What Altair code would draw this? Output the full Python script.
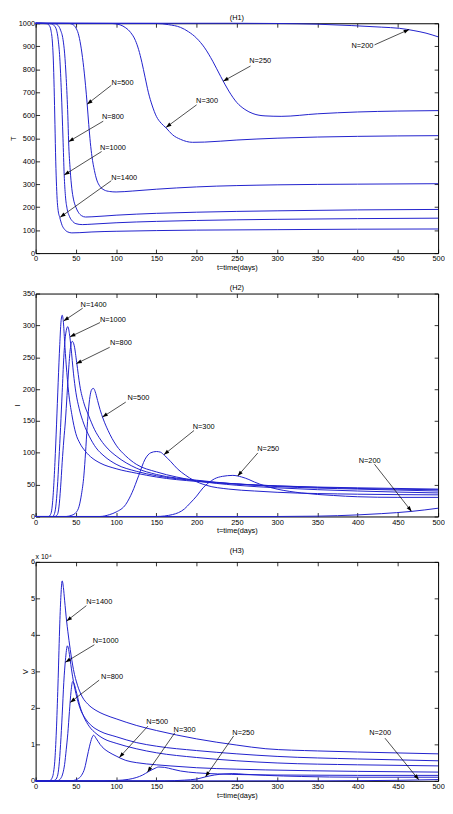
import math
import altair as alt
import pandas as pd

FONT = "Liberation Sans"
BLUE = "#2020cc"
ARROW = "M0,0L-0.36,1L0.36,1Z"

X_TICKS = [0, 50, 100, 150, 200, 250, 300, 350, 400, 450, 500]
H1_Y_TICKS = [0, 100, 200, 300, 400, 500, 600, 700, 800, 900, 1000]
H2_Y_TICKS = [0, 50, 100, 150, 200, 250, 300, 350]
H3_Y_TICKS = [0, 1, 2, 3, 4, 5, 6]
N_VALUES = [1400, 1000, 800, 500, 300, 250, 200]

# ---- (H1) uninfected T cells, (t, T) ----
T_1400 = [(0, 1000), (14, 998), (17, 990), (19, 970), (21, 910), (22, 840), (23, 720), (24, 560),
          (25, 400), (26, 290), (27, 220), (28, 185), (30, 155), (33, 120), (36, 103), (40, 92),
          (45, 88), (55, 89), (70, 92), (100, 95), (150, 98), (200, 100), (300, 102), (400, 104), (500, 105)]
T_1000 = [(0, 1000), (19, 998), (23, 990), (26, 970), (28, 930), (30, 850), (32, 700), (34, 500),
          (35.5, 340), (37, 250), (39, 195), (42, 160), (46, 138), (50, 128), (58, 124), (70, 126),
          (100, 132), (150, 138), (200, 142), (300, 147), (400, 150), (500, 152)]
T_800 = [(0, 1000), (24, 998), (28, 990), (31, 970), (34, 930), (36, 870), (38, 760), (40, 600),
         (41, 485), (43, 360), (45, 280), (47, 235), (50, 200), (53, 178), (57, 163), (62, 157),
         (70, 158), (100, 165), (150, 173), (200, 178), (300, 184), (400, 188), (500, 190)]
T_500 = [(0, 1000), (42, 999), (46, 995), (50, 980), (53, 955), (56, 905), (59, 830), (62, 730),
         (64, 650), (66, 560), (68, 480), (70, 420), (73, 360), (76, 318), (80, 290), (85, 275),
         (92, 268), (100, 266), (120, 270), (150, 278), (200, 288), (300, 297), (400, 300), (500, 302)]
T_300 = [(0, 1000), (95, 999), (105, 993), (112, 980), (118, 960), (124, 925), (128, 885), (132, 830),
         (136, 765), (140, 700), (145, 640), (150, 595), (156, 565), (162, 545), (170, 515), (180, 495),
         (195, 482), (210, 483), (250, 492), (300, 500), (350, 505), (400, 508), (500, 511)]
T_250 = [(0, 1000), (150, 999), (165, 994), (180, 982), (190, 963), (200, 935), (210, 893), (220, 835),
         (230, 768), (240, 705), (250, 655), (260, 625), (270, 607), (285, 597), (305, 595), (350, 606),
         (400, 614), (450, 618), (500, 620)]
T_200 = [(0, 1000), (250, 1000), (300, 999), (350, 996), (392, 990), (430, 983), (452, 978), (470, 968),
         (485, 957), (500, 941)]

# ---- (H2) infected cells I, (t, I) ----
I_1400 = [(0, 0), (16, 0), (18, 2), (20, 10), (22, 38), (24, 85), (26, 145), (28, 210), (30, 270),
          (31.5, 305), (33, 316), (34.5, 305), (36, 275), (38, 238), (41, 195), (45, 160), (50, 130),
          (55, 115), (62, 102), (70, 92), (80, 84), (100, 75), (125, 68), (150, 62), (200, 55), (250, 51),
          (300, 48), (400, 45), (500, 43)]
I_1000 = [(0, 0), (21, 0), (23, 3), (25, 15), (27, 45), (29, 90), (31, 140), (33, 195), (35, 250),
          (37, 283), (40, 298), (42, 287), (44, 265), (47, 225), (50, 195), (54, 170), (60, 145),
          (67, 125), (75, 108), (85, 95), (100, 82), (125, 71), (150, 64), (200, 56), (250, 51),
          (300, 48), (400, 44), (500, 42)]
I_800 = [(0, 0), (24, 0), (27, 3), (29, 15), (31, 45), (33, 85), (35, 120), (37, 150), (39, 190),
         (41, 230), (43, 262), (45.5, 275), (48, 268), (51, 242), (55, 205), (60, 178), (66, 158),
         (73, 137), (81, 120), (90, 106), (100, 95), (125, 76), (150, 66), (200, 57), (250, 51),
         (300, 47), (400, 43), (500, 40)]
I_500 = [(0, 0), (38, 0), (45, 2), (50, 6), (54, 16), (57, 35), (60, 65), (62, 100), (64, 140), (66, 172),
         (68, 192), (70, 200), (72, 201), (74, 196), (77, 182), (80, 168), (84, 153), (90, 135), (100, 112),
         (112, 95), (125, 82), (150, 70), (175, 62), (200, 56), (250, 49), (300, 45), (400, 40), (500, 37)]
I_300 = [(0, 0), (80, 0), (92, 3), (100, 7), (112, 19), (120, 38), (128, 64), (136, 90), (143, 100),
         (150, 102), (155, 101), (160, 96), (168, 86), (176, 75), (186, 65), (196, 57), (212, 49),
         (240, 43), (272, 40), (300, 38), (400, 35), (500, 34)]
I_250 = [(0, 0), (150, 0), (170, 3), (185, 12), (192, 21), (200, 32), (208, 45), (215, 53), (222, 59),
         (232, 63), (245, 64.5), (256, 62), (265, 58), (272, 54), (285, 48), (300, 43), (330, 37),
         (370, 33), (400, 31), (450, 30), (500, 30)]
I_200 = [(0, 0), (300, 0), (350, 0.5), (400, 2.5), (430, 4.5), (467, 8), (500, 13)]

# ---- (H3) virus V in units of 10^4, (t, V) ----
V_1400 = [(0, 0), (16, 0), (18, 0.01), (20, 0.06), (22, 0.2), (24, 0.6), (26, 1.5), (28, 2.8), (30, 4.3),
          (31.5, 5.1), (33, 5.48), (34.5, 5.3), (36, 4.95), (38.5, 4.38), (40, 4.1), (43, 3.6), (47, 3.05),
          (52, 2.62), (58, 2.3), (65, 2.1), (75, 1.93), (85, 1.82), (100, 1.7), (125, 1.52), (150, 1.38),
          (200, 1.15), (250, 0.98), (286, 0.88), (350, 0.82), (400, 0.79), (500, 0.74)]
V_1000 = [(0, 0), (21, 0), (24, 0.02), (27, 0.12), (29, 0.4), (31, 1.0), (33, 1.8), (35, 2.7), (37, 3.3),
          (39.5, 3.7), (41, 3.6), (43, 3.3), (46, 2.85), (50, 2.4), (55, 2.0), (62, 1.7), (70, 1.5),
          (80, 1.36), (100, 1.21), (125, 1.05), (150, 0.95), (200, 0.83), (250, 0.74), (300, 0.67),
          (400, 0.6), (500, 0.55)]
V_800 = [(0, 0), (25, 0), (28, 0.01), (31, 0.06), (34, 0.22), (36, 0.45), (38, 0.85), (40, 1.3),
         (42, 1.9), (44, 2.45), (46, 2.72), (48, 2.65), (51, 2.4), (55, 2.05), (60, 1.75), (67, 1.48),
         (75, 1.3), (85, 1.15), (100, 1.03), (125, 0.88), (150, 0.77), (200, 0.64), (250, 0.55),
         (300, 0.49), (400, 0.44), (500, 0.41)]
V_500 = [(0, 0), (42, 0), (47, 0.01), (52, 0.05), (57, 0.15), (61, 0.35), (64, 0.65), (67, 0.95),
         (70, 1.18), (72, 1.25), (75, 1.17), (80, 1.0), (85, 0.88), (90, 0.8), (100, 0.68), (112, 0.56),
         (125, 0.5), (150, 0.44), (167, 0.41), (200, 0.36), (250, 0.32), (286, 0.3), (400, 0.26), (500, 0.24)]
V_300 = [(0, 0), (85, 0), (100, 0.01), (115, 0.04), (125, 0.09), (133, 0.16), (140, 0.25), (147, 0.33),
         (153, 0.38), (160, 0.37), (170, 0.32), (180, 0.27), (200, 0.22), (226, 0.19), (260, 0.17),
         (300, 0.16), (400, 0.15), (500, 0.15)]
V_250 = [(0, 0), (160, 0), (185, 0.02), (200, 0.05), (211, 0.11), (222, 0.16), (234, 0.19), (245, 0.2),
         (260, 0.18), (286, 0.15), (330, 0.12), (400, 0.1), (500, 0.1)]
V_200 = [(0, 0), (350, 0), (400, 0.005), (450, 0.015), (475, 0.025), (500, 0.035)]

# ---- annotations: (label, text t, text value, arrow-start t, value, arrow-tip t, value) ----
H1_NOTES = [("N=250", 279, 835, 267, 814, 233, 748),
            ("N=200", 406, 899, 421, 906, 464, 973),
            ("N=300", 213, 660, 200, 645, 162, 547),
            ("N=500", 108, 740, 94, 730, 64, 648),
            ("N=800", 96, 590, 84, 574, 41, 485),
            ("N=1000", 96, 456, 82, 442, 35.5, 340),
            ("N=1400", 110, 326, 94, 315, 30.5, 156)]
H2_NOTES = [("N=1400", 72, 332, 58.5, 327, 34.8, 307),
            ("N=1000", 96, 308, 80, 304.5, 42.7, 282),
            ("N=800", 106, 271.6, 92, 265.6, 50.6, 240),
            ("N=500", 127.7, 185.6, 112, 179.6, 83, 156),
            ("N=300", 208.7, 141, 196.8, 135, 159.3, 97),
            ("N=250", 289, 105.8, 276, 99.7, 251, 63.5),
            ("N=200", 415, 87, 421, 82, 467, 8)]
H3_NOTES = [("N=1400", 79, 4.9, 63, 4.8, 38.5, 4.38),
            ("N=1000", 87, 3.82, 73, 3.73, 37, 3.25),
            ("N=800", 95, 2.84, 79, 2.76, 43, 2.15),
            ("N=500", 151, 1.61, 139.5, 1.5, 104, 0.64),
            ("N=300", 185, 1.40, 173, 1.32, 139, 0.24),
            ("N=250", 258, 1.32, 246, 1.23, 211, 0.11),
            ("N=200", 428, 1.30, 434, 1.17, 476, 0.03)]

SCALE_NOTE = "x 10\u2074"

PLOT_W = 408


def series_frame(series_list):
    rows = []
    for n, pts in zip(N_VALUES, series_list):
        for t, v in pts:
            rows.append({"N": n, "t": t, "v": v})
    return pd.DataFrame(rows)


def notes_frame(notes, w, h, ymax):
    rows = []
    for lab, tt, tv, ft, fv, at, av in notes:
        dx = (at - ft) * w / 500.0
        dy = -(av - fv) * h / ymax
        ang = math.degrees(math.atan2(dx, -dy)) % 360
        rows.append(dict(label=lab, tt=tt, tv=tv, ft=ft, fv=fv, at=at, av=av, ang=ang))
    return pd.DataFrame(rows)


def panel(series_list, notes, ymax, yticks, ytitle, title, w, h, extra=None):
    df = series_frame(series_list)
    ndf = notes_frame(notes, w, h, ymax)
    xs = alt.Scale(domain=[0, 500], nice=False, zero=False)
    ys = alt.Scale(domain=[0, ymax], nice=False)
    lines = alt.Chart(df).mark_line(color=BLUE, strokeWidth=1, interpolate="monotone").encode(
        x=alt.X("t:Q", scale=xs, axis=alt.Axis(values=X_TICKS, title="t=time(days)", orient="bottom",
                                              offset=-4, tickSize=4, domain=False, labelPadding=2,
                                              titlePadding=1, labelFlush=False, labelOverlap=False,
                                              grid=False, format="d")),
        y=alt.Y("v:Q", scale=ys, axis=alt.Axis(values=yticks, title=ytitle, orient="left", offset=-4,
                                              tickSize=4, domain=False, labelPadding=1, titlePadding=1,
                                              labelOverlap=False, grid=False, format="d")),
        detail="N:N",
    )
    frame = alt.Chart(df).mark_line(opacity=0).encode(
        x=alt.X("t:Q", scale=xs, axis=alt.Axis(values=X_TICKS, orient="top", offset=-4, tickSize=4,
                                              domain=False, labels=False, title=None, grid=False)),
        y=alt.Y("v:Q", scale=ys, axis=alt.Axis(values=yticks, orient="right", offset=-4, tickSize=4,
                                              domain=False, labels=False, title=None, grid=False)),
        detail="N:N",
    )
    rules = alt.Chart(ndf).mark_rule(color="black", strokeWidth=0.7).encode(
        x=alt.X("ft:Q", scale=xs, axis=None), y=alt.Y("fv:Q", scale=ys, axis=None),
        x2="at:Q", y2="av:Q")
    heads = alt.Chart(ndf).mark_point(shape=ARROW, filled=True, color="black", size=120, opacity=1).encode(
        x=alt.X("at:Q", scale=xs, axis=None), y=alt.Y("av:Q", scale=ys, axis=None),
        angle=alt.Angle("ang:Q", scale=None))
    texts = alt.Chart(ndf).mark_text(fontSize=7.5, font=FONT, color="black").encode(
        x=alt.X("tt:Q", scale=xs, axis=None), y=alt.Y("tv:Q", scale=ys, axis=None), text="label:N")
    layers = [lines, frame, rules, heads, texts]
    if extra is not None:
        layers.append(extra)
    return alt.layer(*layers).resolve_axis(x="independent", y="independent").properties(
        width=w, height=h,
        title=alt.Title(title, fontSize=7.5, fontWeight="normal", font=FONT, color="black", offset=-2,
                        frame="group"))


p1 = panel([T_1400, T_1000, T_800, T_500, T_300, T_250, T_200], H1_NOTES, 1000, H1_Y_TICKS, "T", "(H1)",
           PLOT_W, 233)
p2 = panel([I_1400, I_1000, I_800, I_500, I_300, I_250, I_200], H2_NOTES, 350, H2_Y_TICKS, "I", "(H2)",
           PLOT_W, 226)
scale_note = alt.Chart(pd.DataFrame({"s": [SCALE_NOTE]})).mark_text(
    align="left", baseline="bottom", fontSize=7, font=FONT, color="black").encode(
    x=alt.value(0), y=alt.value(-2), text="s:N")
p3 = panel([V_1400, V_1000, V_800, V_500, V_300, V_250, V_200], H3_NOTES, 6, H3_Y_TICKS, "V", "(H3)",
           PLOT_W, 222, extra=scale_note)

chart = alt.vconcat(p1, p2, p3, spacing=12).configure_axis(
    labelFont=FONT, titleFont=FONT, labelFontSize=7.5, titleFontSize=7.5, titleFontWeight="normal",
    labelColor="black", titleColor="black", tickColor="black", tickWidth=0.8
).configure_view(stroke="black", strokeWidth=1).properties(
    padding={"left": 0, "top": 0, "right": 0, "bottom": 0})

chart.save("out.html", embed_options={"renderer": "svg", "actions": False})
